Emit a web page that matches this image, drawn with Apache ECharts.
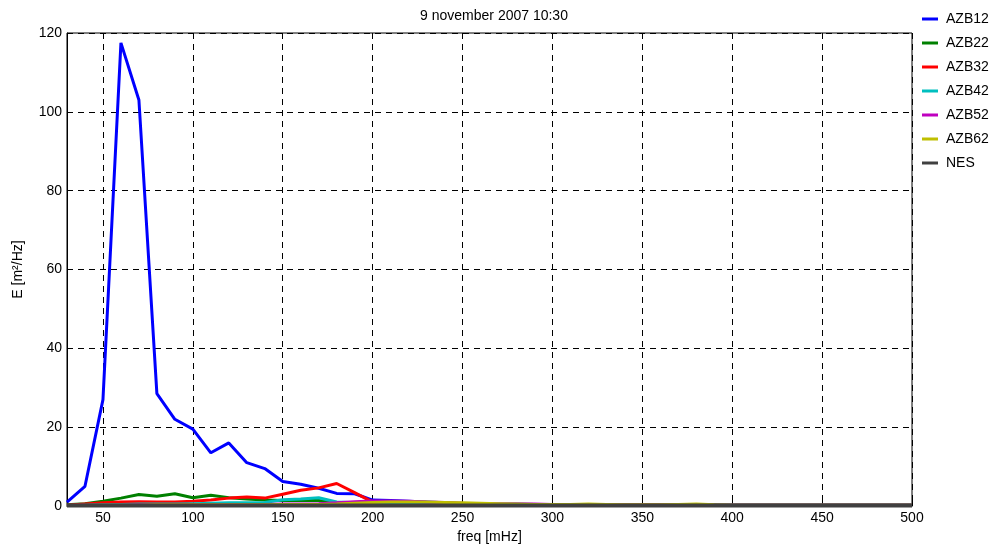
<!DOCTYPE html>
<html>
<head>
<meta charset="utf-8">
<script src="https://cdn.jsdelivr.net/npm/echarts@6/dist/echarts.min.js"></script>
<style>
  html, body { margin: 0; padding: 0; background: #fff; }
  #chart { width: 1007px; height: 551px; }
</style>
</head>
<body>
<div id="chart"></div>
<script>
// frequencies 30..500 mHz
var freq = [30, 40, 50, 60, 70, 80, 90, 100, 110, 120, 130, 140, 150, 160, 170, 180, 190, 200,
    210, 220, 230, 240, 250, 260, 270, 280, 290, 300, 310, 320, 330, 340, 350, 360, 370, 380,
    390, 400, 410, 420, 430, 440, 450, 460, 470, 480, 490, 500];

var azb12 = [1, 5, 27, 117.5, 103, 28.5, 22, 19.5, 13.5, 16, 11, 9.5, 6.2, 5.5, 4.5, 3.2, 3.1, 1.5,
    1.4, 1.2, 1.0, 0.8, 0.6, 0.5, 0.5, 0.5, 0.4, 0.3, 0.3, 0.4, 0.3, 0.3, 0.3, 0.3, 0.3, 0.4,
    0.3, 0.2, 0.2, 0.2, 0.2, 0.2, 0.2, 0.2, 0.2, 0.2, 0.2, 0.2];
var azb22 = [0.3, 0.6, 1.2, 2.0, 2.9, 2.5, 3.1, 2.1, 2.7, 2.1, 1.8, 1.5, 1.4, 1.4, 1.4, 0.8, 0.6, 0.5,
    0.5, 0.4, 0.4, 0.4, 0.3, 0.3, 0.3, 0.3, 0.3, 0.2, 0.2, 0.3, 0.2, 0.2, 0.2, 0.2, 0.2, 0.3,
    0.2, 0.2, 0.2, 0.2, 0.2, 0.2, 0.2, 0.2, 0.2, 0.2, 0.2, 0.2];
var azb32 = [0.2, 0.5, 0.8, 1.0, 1.1, 1.0, 1.0, 1.2, 1.5, 2.0, 2.3, 2.0, 3.0, 4.0, 4.6, 5.7, 3.4, 1.0,
    0.8, 0.7, 0.6, 0.5, 0.5, 0.4, 0.4, 0.4, 0.3, 0.3, 0.3, 0.3, 0.2, 0.2, 0.2, 0.2, 0.2, 0.3,
    0.2, 0.2, 0.2, 0.2, 0.2, 0.2, 0.2, 0.2, 0.2, 0.2, 0.2, 0.2];
var azb42 = [0.1, 0.2, 0.3, 0.4, 0.5, 0.5, 0.5, 0.6, 0.7, 0.8, 0.8, 0.9, 1.6, 1.8, 2.1, 1.0, 0.8, 0.6,
    0.5, 0.5, 0.4, 0.4, 0.3, 0.3, 0.3, 0.3, 0.2, 0.2, 0.2, 0.2, 0.2, 0.2, 0.2, 0.2, 0.2, 0.2,
    0.2, 0.2, 0.2, 0.2, 0.2, 0.2, 0.2, 0.2, 0.2, 0.2, 0.2, 0.2];
var azb52 = [0.1, 0.1, 0.2, 0.2, 0.3, 0.3, 0.3, 0.3, 0.3, 0.4, 0.4, 0.4, 0.5, 0.5, 0.6, 0.8, 1.1, 1.3,
    1.3, 1.2, 1.0, 0.9, 0.7, 0.6, 0.5, 0.5, 0.5, 0.4, 0.4, 0.4, 0.3, 0.3, 0.3, 0.3, 0.3, 0.3,
    0.2, 0.2, 0.2, 0.2, 0.2, 0.2, 0.2, 0.2, 0.2, 0.2, 0.2, 0.2];
var azb62 = [0.1, 0.1, 0.2, 0.2, 0.2, 0.3, 0.3, 0.3, 0.3, 0.3, 0.3, 0.3, 0.4, 0.4, 0.4, 0.5, 0.7, 0.9,
    1.0, 1.0, 1.0, 0.9, 0.8, 0.7, 0.6, 0.5, 0.4, 0.4, 0.4, 0.5, 0.4, 0.3, 0.3, 0.3, 0.4, 0.5,
    0.3, 0.2, 0.2, 0.2, 0.2, 0.2, 0.2, 0.2, 0.2, 0.2, 0.2, 0.2];
var nes = [0.1, 0.1, 0.1, 0.1, 0.1, 0.1, 0.1, 0.1, 0.1, 0.1, 0.1, 0.1, 0.1, 0.1, 0.1, 0.1, 0.1, 0.1,
    0.1, 0.1, 0.1, 0.1, 0.1, 0.1, 0.1, 0.1, 0.1, 0.1, 0.1, 0.1, 0.1, 0.1, 0.1, 0.1, 0.1, 0.1,
    0.1, 0.1, 0.1, 0.1, 0.1, 0.1, 0.1, 0.1, 0.1, 0.1, 0.1, 0.1];

var xTicks = [50, 100, 150, 200, 250, 300, 350, 400, 450, 500];

var names = ['AZB12', 'AZB22', 'AZB32', 'AZB42', 'AZB52', 'AZB62', 'NES'];
var values = [azb12, azb22, azb32, azb42, azb52, azb62, nes];
var colors = ['#0000ff', '#008000', '#ff0000', '#00bfbf', '#bf00bf', '#bfbf00', '#404040'];

function pairs(ys) {
    return freq.map(function (f, i) { return [f, ys[i]]; });
}

var chart = echarts.init(document.getElementById('chart'));

var series = names.map(function (n, i) {
    return {
        name: n,
        type: 'line',
        data: pairs(values[i]),
        showSymbol: false,
        symbol: 'none',
        lineStyle: { width: i == 6 ? 4 : 3, color: colors[i] },
        itemStyle: { color: colors[i] },
        z: 2 + i,
        animation: false
    };
});

var option = {
    animation: false,
    textStyle: { fontFamily: 'Liberation Sans, Arial, sans-serif' },
    title: {
        text: '9 november 2007 10:30',
        left: 489, top: 4, textAlign: 'center',
        textStyle: { fontSize: 14, fontWeight: 'normal', color: '#000' }
    },
    legend: {
        orient: 'vertical',
        left: 917, top: 7,
        itemWidth: 16, itemHeight: 3,
        itemGap: 10,
        icon: 'rect',
        textStyle: { fontSize: 14, color: '#000', padding: [0, 0, 0, 3] },
        data: names
    },
    grid: {
        left: 67, right: 95, top: 33, bottom: 45,
        show: true, borderColor: '#000', borderWidth: 1
    },
    xAxis: {
        type: 'value',
        min: 30, max: 500,
        name: 'freq [mHz]',
        nameLocation: 'middle',
        nameGap: 24,
        nameTextStyle: { fontSize: 14, color: '#000' },
        axisLine: { lineStyle: { color: '#000' } },
        axisTick: { inside: true, length: 5, customValues: xTicks, lineStyle: { color: '#000' } },
        axisLabel: { customValues: xTicks, fontSize: 14, color: '#000', margin: 5 },
        splitLine: { show: true, lineStyle: { color: '#000', type: [6, 5], width: 1 } }
    },
    yAxis: {
        type: 'value',
        min: 0, max: 120, interval: 20,
        name: 'E [m²/Hz]',
        nameLocation: 'middle',
        nameGap: 42,
        nameTextStyle: { fontSize: 14, color: '#000' },
        axisLine: { show: true, lineStyle: { color: '#000' } },
        axisTick: { show: true, inside: true, length: 5, lineStyle: { color: '#000' } },
        axisLabel: { fontSize: 14, color: '#000', margin: 5 },
        splitLine: { show: true, lineStyle: { color: '#000', type: [6, 5], width: 1 } }
    },
    series: series
};

chart.setOption(option);
</script>
</body>
</html>
